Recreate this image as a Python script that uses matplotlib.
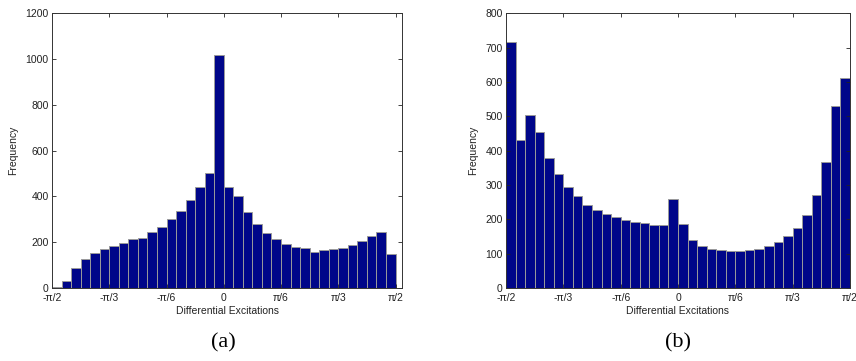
import numpy as np
import matplotlib
matplotlib.use("Agg")
import matplotlib.pyplot as plt

# ---- data ----
n_bins = 36
freq_a = [4, 30, 86, 126, 154, 172, 185, 196, 214, 217, 243, 268, 300, 338, 383, 442, 502, 1020,
          442, 403, 330, 278, 239, 214, 192, 179, 176, 158, 166, 170, 176, 186, 205, 228, 243, 148]
freq_b = [716, 430, 505, 454, 380, 331, 295, 267, 243, 227, 215, 206, 199, 192, 190, 184, 184, 258,
          185, 139, 121, 114, 110, 108, 108, 110, 114, 121, 134, 152, 175, 213, 272, 367, 531, 613]
tick_vals = [-np.pi/2, -np.pi/3, -np.pi/6, 0, np.pi/6, np.pi/3, np.pi/2]
tick_labels = ["-π/2", "-π/3", "-π/6", "0", "π/6", "π/3", "π/2"]
yticks_a = [0, 200, 400, 600, 800, 1000, 1200]
yticks_b = [0, 100, 200, 300, 400, 500, 600, 700, 800]
xlabel = "Differential Excitations"
ylabel = "Frequency"
captions = ["(a)", "(b)"]

plt.rcParams['font.family'] = ['Liberation Sans', 'DejaVu Sans']

fig = plt.figure(figsize=(8.56, 3.61), dpi=100)
W, H = 856, 361

def px_axes(x0, y0, x1, y1):
    return fig.add_axes([x0 / W, 1 - y1 / H, (x1 - x0) / W, (y1 - y0) / H])

edges = np.linspace(-np.pi/2, np.pi/2, n_bins + 1)
centers = (edges[:-1] + edges[1:]) / 2
width = edges[1] - edges[0]

ax_a = px_axes(52, 13.3, 402, 288)
ax_b = px_axes(506, 13.3, 850, 288)

specs = [(ax_a, freq_a, yticks_a, (-np.pi/2, 1.63)),
         (ax_b, freq_b, yticks_b, (-np.pi/2, np.pi/2))]

for ax, freq, yt, xl in specs:
    ax.bar(centers, freq, width=width, color='#000689', edgecolor='#9a9a9a',
           linewidth=0.7, align='center')
    ax.set_xlim(*xl)
    ax.set_ylim(yt[0], yt[-1])
    ax.set_yticks(yt)
    ax.set_yticklabels([str(v) for v in yt])
    ax.set_xticks(tick_vals)
    ax.set_xticklabels(tick_labels)
    ax.tick_params(direction='in', length=3, width=0.6, colors='#222222',
                   labelsize=7.5, top=True, right=True)
    ax.tick_params(axis='x', pad=3.5)
    ax.tick_params(axis='y', pad=2.5)
    for s in ax.spines.values():
        s.set_linewidth(0.7)
        s.set_color('#333333')
    ax.set_xlabel(xlabel, fontsize=7.5, color='#222222', labelpad=2)
    ax.set_ylabel(ylabel, fontsize=7.5, color='#222222', labelpad=5)

fig.text(223 / W, 1 - 343 / H, captions[0], fontsize=16, family='Liberation Serif',
         ha='center', va='center')
fig.text(678 / W, 1 - 343 / H, captions[1], fontsize=16, family='Liberation Serif',
         ha='center', va='center')

fig.savefig("out.png", dpi=100)
